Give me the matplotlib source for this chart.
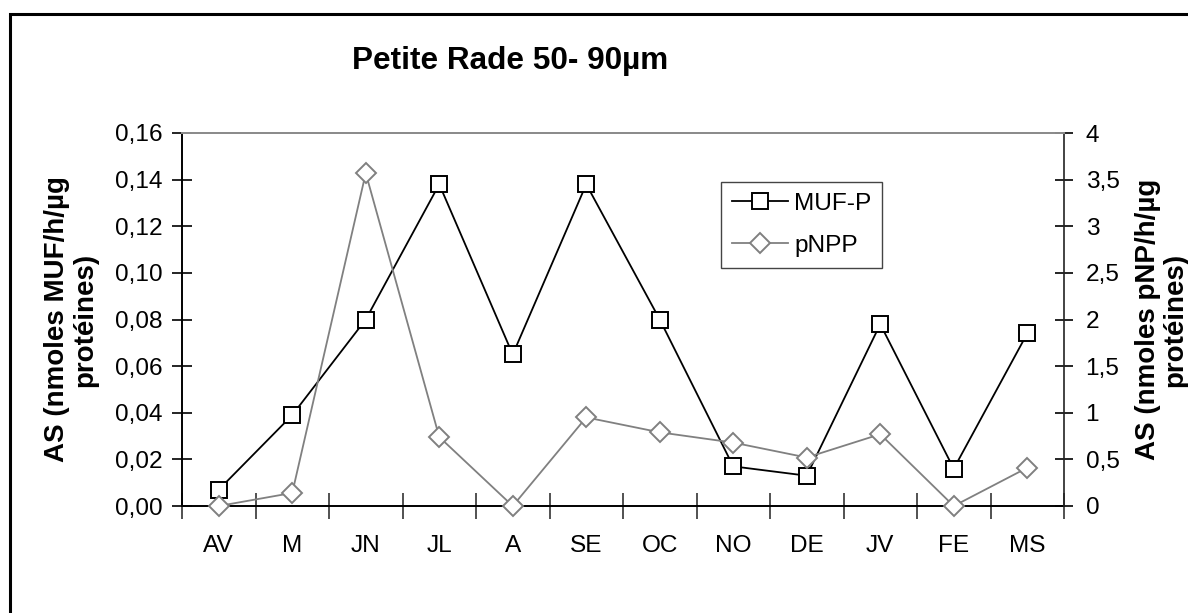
import matplotlib
matplotlib.use("Agg")
import matplotlib.pyplot as plt
from matplotlib.patches import Rectangle
from matplotlib.ticker import FixedLocator

plt.rcParams['font.family'] = ['Liberation Sans', 'DejaVu Sans']

# Monthly samples
months = ['AV', 'M', 'JN', 'JL', 'A', 'SE', 'OC', 'NO', 'DE', 'JV', 'FE', 'MS']
# Activity with MUF-P substrate (left axis)
muf_p = [0.007, 0.039, 0.080, 0.138, 0.065, 0.138, 0.080, 0.017, 0.013, 0.078, 0.016, 0.074]
# Activity with pNPP substrate (right axis)
pnpp = [0.0, 0.14, 3.57, 0.74, 0.0, 0.95, 0.79, 0.68, 0.52, 0.77, 0.0, 0.41]

left_ticks = [0.00, 0.02, 0.04, 0.06, 0.08, 0.10, 0.12, 0.14, 0.16]
left_labels = ['0,00', '0,02', '0,04', '0,06', '0,08', '0,10', '0,12', '0,14', '0,16']
right_ticks = [0, 0.5, 1, 1.5, 2, 2.5, 3, 3.5, 4]
right_labels = ['0', '0,5', '1', '1,5', '2', '2,5', '3', '3,5', '4']

W, H, DPI = 1188, 613, 100
fig = plt.figure(figsize=(W / DPI, H / DPI), dpi=DPI)
fig.patch.set_facecolor('white')

# Outer frame (open to the right and bottom)
fig.patches.append(Rectangle((10 / W, -0.2), 1.5, 1.2 - 14 / H,
                             transform=fig.transFigure, fill=False,
                             edgecolor='black', linewidth=2.2))

ax = fig.add_axes([182 / W, 1 - 506 / H, (1064 - 182) / W, (506 - 133) / H])
ax2 = ax.twinx()

x = list(range(len(months)))
fs = 17.6

l1, = ax.plot(x, muf_p, color='black', linewidth=1.3, marker='s', markersize=12,
              markerfacecolor='white', markeredgecolor='black', markeredgewidth=1.4,
              label='MUF-P', clip_on=False, zorder=3)
l2, = ax2.plot(x, pnpp, color='#808080', linewidth=1.3, marker='D', markersize=10,
               markerfacecolor='white', markeredgecolor='#808080', markeredgewidth=1.4,
               label='pNPP', clip_on=False, zorder=3)

ax.set_xlim(-0.5, len(months) - 0.5)
ax.set_ylim(0, 0.16)
ax2.set_ylim(0, 4)

ax.yaxis.set_major_locator(FixedLocator(left_ticks))
ax.set_yticklabels(left_labels)
ax2.yaxis.set_major_locator(FixedLocator(right_ticks))
ax2.set_yticklabels(right_labels)

ax.set_xticks(x)
ax.set_xticklabels(months)
ax.set_xticks([i - 0.5 for i in range(len(months) + 1)], minor=True)

ax.tick_params(axis='x', which='major', length=0, pad=21, labelsize=fs)
ax.tick_params(axis='x', which='minor', length=19, direction='inout', width=1.2, color='#333333')
ax.tick_params(axis='y', which='major', length=14, direction='inout', width=1.2,
               pad=7, labelsize=fs)
ax2.tick_params(axis='y', which='major', length=13, direction='inout', width=1.2,
                pad=9, labelsize=fs)

for a in (ax, ax2):
    a.spines['top'].set_color('#8c8c8c')
    a.spines['top'].set_linewidth(1.4)
ax.spines['left'].set_linewidth(1.4)
ax.spines['bottom'].set_linewidth(1.4)
ax.spines['right'].set_visible(False)
ax2.spines['left'].set_visible(False)
ax2.spines['bottom'].set_visible(False)
ax2.spines['right'].set_linewidth(1.2)
ax2.spines['right'].set_color('#222222')

ax.set_ylabel('AS (nmoles MUF/h/µg\nprotéines)', fontsize=20, fontweight='bold',
              linespacing=1.1, labelpad=12)
ax2.set_ylabel('AS (nmoles pNP/h/µg\nprotéines)', fontsize=20, fontweight='bold',
               linespacing=1.1, labelpad=11)

fig.text(510 / W, 1 - 69 / H, 'Petite Rade 50- 90µm', fontsize=22.7, fontweight='bold',
         ha='center', va='baseline')

leg = ax2.legend(handles=[l1, l2], loc='upper left', bbox_to_anchor=(0.611, 0.869),
                 borderaxespad=0, fancybox=False, framealpha=1, edgecolor='#444444',
                 fontsize=fs, handlelength=2.3, handletextpad=0.25, labelspacing=0.8,
                 borderpad=0.45)
leg.get_frame().set_linewidth(1.0)

fig.savefig('out.png', dpi=DPI, facecolor='white')
